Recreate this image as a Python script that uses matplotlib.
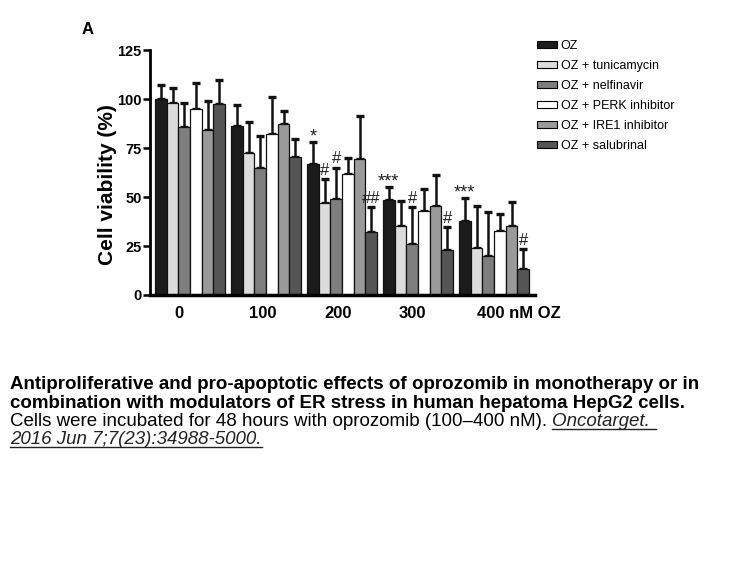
import numpy as np
import matplotlib
matplotlib.use("Agg")
import matplotlib.pyplot as plt
from matplotlib.patches import Patch
from matplotlib.lines import Line2D

plt.rcParams['font.family'] = ['Liberation Sans', 'DejaVu Sans']

doses = ["0", "100", "200", "300", "400 nM OZ"]
series = ["OZ", "OZ + tunicamycin", "OZ + nelfinavir", "OZ + PERK inhibitor",
          "OZ + IRE1 inhibitor", "OZ + salubrinal"]
colors = ["#1c1c1c", "#dcdcdc", "#7e7e7e", "#ffffff", "#9a9a9a", "#555555"]

# mean values (%) per series, one entry per dose
oz = [100, 86.2, 67, 48.5, 37.6]
tunicamycin = [98, 72.2, 47, 35.4, 24.1]
nelfinavir = [85.8, 65, 49, 25.9, 19.9]
perk = [95, 82, 61.7, 42.9, 32.5]
ire1 = [84.2, 87, 69.2, 45.4, 35.2]
salubrinal = [97.5, 70.6, 32, 23, 13.3]

# upper end of error bars
oz_top = [107, 97, 78, 55, 49.3]
tunicamycin_top = [105.8, 88.3, 59.3, 48, 45.4]
nelfinavir_top = [98, 81, 65, 44.7, 42.2]
perk_top = [108, 101, 70, 54, 41.2]
ire1_top = [99, 94, 91.3, 61.2, 47.3]
salubrinal_top = [109.7, 79.6, 44.7, 34.8, 23.3]

# significance marks: (series index, dose index, text)
marks = [(0, 2, "*"), (1, 2, "#"), (2, 2, "#"), (5, 2, "##"),
         (0, 3, "***"), (2, 3, "#"), (5, 3, "#"),
         (0, 4, "***"), (5, 4, "#")]

caption_bold = ["Antiproliferative and pro-apoptotic effects of oprozomib in monotherapy or in",
                "combination with modulators of ER stress in human hepatoma HepG2 cells."]
caption_text = "Cells were incubated for 48 hours with oprozomib (100\u2013400 nM). "
caption_ref = ["Oncotarget. ", "2016 Jun 7;7(23):34988-5000."]

means = [oz, tunicamycin, nelfinavir, perk, ire1, salubrinal]
tops = [oz_top, tunicamycin_top, nelfinavir_top, perk_top, ire1_top, salubrinal_top]

W, H = 756, 567
fig = plt.figure(figsize=(W / 100, H / 100), dpi=100)
ax = fig.add_axes([150 / W, 1 - 295 / H, 385 / W, 245 / H])

pitch = 6.5
group_x = np.arange(len(doses)) * pitch
for i, (m, t) in enumerate(zip(means, tops)):
    x = group_x + i + 0.5
    m = np.array(m)
    err = np.array(t) - m
    ax.bar(x, m, width=1.0, color=colors[i], edgecolor="#111111", linewidth=0.9, zorder=2)
    ax.errorbar(x, m, yerr=[np.zeros_like(err), err], fmt="none", ecolor="#111111",
                elinewidth=1.8, capsize=3, capthick=2.4, zorder=1)

for si, di, txt in marks:
    x = group_x[di] + si + 0.5
    fs = 13 if "*" in txt else 12
    dy = -1.5 if "*" in txt else 0.6
    ax.text(x, tops[si][di] + dy, txt, ha="center", va="bottom", fontsize=fs,
            color="#222222")

ax.set_xlim(-0.43, 32.5)
ax.set_ylim(0, 125)
ax.set_yticks([0, 25, 50, 75, 100, 125])
ax.tick_params(axis="y", length=5, width=1.8, labelsize=10.5, pad=1)
for lab in ax.get_yticklabels():
    lab.set_fontweight("bold")

label_shift = [-0.95, -0.3, -0.35, -0.45, -1.5]
ax.set_xticks(group_x + 3 + np.array(label_shift))
ax.set_xticklabels(doses, fontsize=12, fontweight="bold")
ax.get_xticklabels()[-1].set_ha("left")
ax.tick_params(axis="x", length=0, pad=8)

for s in ["top", "right"]:
    ax.spines[s].set_visible(False)
ax.spines["left"].set_linewidth(2)
ax.spines["bottom"].set_linewidth(2.5)

ax.set_ylabel("Cell viability (%)", fontsize=15, fontweight="bold")
ax.yaxis.set_label_coords(-0.085, 0.45)

fig.text(82 / W, 1 - 30 / H, "A", fontsize=12, fontweight="bold", va="center")

handles = [Patch(facecolor=c, edgecolor="black", linewidth=0.8) for c in colors]
fig.legend(handles, series, loc="upper left", bbox_to_anchor=(532 / W, 1 - 35 / H),
           frameon=False, fontsize=9, handlelength=1.6, handleheight=0.56,
           handletextpad=0.3, labelspacing=0.64, borderaxespad=0)

# caption below the chart
fs_cap = 13.5
baselines = [389, 407.5, 426, 444]
for k, line in enumerate(caption_bold):
    fig.text(10 / W, 1 - baselines[k] / H, line, fontsize=fs_cap, fontweight="bold",
             va="baseline")
t3 = fig.text(10 / W, 1 - baselines[2] / H, caption_text, fontsize=fs_cap, va="baseline")
renderer = fig.canvas.get_renderer()
x3 = t3.get_window_extent(renderer).x1
t4 = fig.text(x3 / W, 1 - baselines[2] / H, caption_ref[0], fontsize=fs_cap,
              style="italic", va="baseline", color="#222222")
t5 = fig.text(10 / W, 1 - baselines[3] / H, caption_ref[1], fontsize=fs_cap,
              style="italic", va="baseline", color="#222222")
for t, b in [(t4, baselines[2]), (t5, baselines[3])]:
    bb = t.get_window_extent(renderer)
    yy = 1 - (b + 2.5) / H
    fig.add_artist(Line2D([bb.x0 / W, bb.x1 / W], [yy, yy], color="#222222",
                          linewidth=1.0, transform=fig.transFigure))

fig.savefig("out.png", dpi=100)
